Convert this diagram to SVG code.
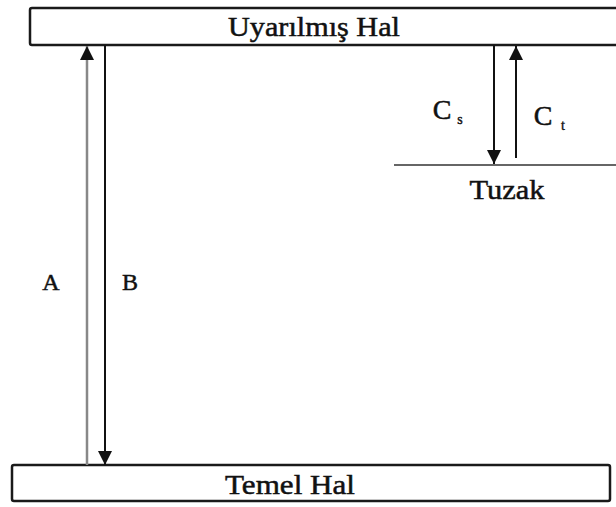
<svg xmlns="http://www.w3.org/2000/svg" width="616" height="507" viewBox="0 0 616 507">
<defs>
<marker id="ah" viewBox="0 0 10 10" refX="10" refY="5" markerWidth="14" markerHeight="20" markerUnits="userSpaceOnUse" orient="auto">
<path d="M0,0 L10,5 L0,10 z" fill="#111"/>
</marker>
</defs>
<rect width="616" height="507" fill="#fff"/>
<g id="uyarilmis">
<rect x="30" y="8" width="600" height="37" rx="2" fill="#fff" stroke="#1a1a1a" stroke-width="2.5"/>
<text x="314" y="36" font-size="28" font-family="Liberation Serif" fill="#111" stroke="#111" stroke-width="0.5" text-anchor="middle" textLength="172" lengthAdjust="spacingAndGlyphs">Uyarılmış Hal</text>
</g>
<g id="temel">
<rect x="12" y="465" width="598" height="36" rx="2" fill="#fff" stroke="#1a1a1a" stroke-width="2.5"/>
<text x="290" y="494" font-size="28" font-family="Liberation Serif" fill="#111" stroke="#111" stroke-width="0.5" text-anchor="middle" textLength="130" lengthAdjust="spacingAndGlyphs">Temel Hal</text>
</g>
<g id="tuzak">
<line x1="394" y1="165" x2="616" y2="165" stroke="#333" stroke-width="1.5"/>
<text x="507" y="199" font-size="28" font-family="Liberation Serif" fill="#111" stroke="#111" stroke-width="0.5" text-anchor="middle" textLength="75" lengthAdjust="spacingAndGlyphs">Tuzak</text>
</g>
<g id="connectors">
<line x1="87" y1="465" x2="87" y2="46" stroke="#888" stroke-width="2.5" marker-end="url(#ah)"/>
<line x1="105" y1="45" x2="105" y2="465" stroke="#111" stroke-width="2" marker-end="url(#ah)"/>
<line x1="494" y1="45" x2="494" y2="164" stroke="#111" stroke-width="2" marker-end="url(#ah)"/>
<line x1="516" y1="158" x2="516" y2="46" stroke="#111" stroke-width="2" marker-end="url(#ah)"/>
</g>
<g id="labels">
<text x="51" y="290" font-size="24" font-family="Liberation Serif" fill="#111" stroke="#111" stroke-width="0.5" text-anchor="middle">A</text>
<text x="130" y="290" font-size="24" font-family="Liberation Serif" fill="#111" stroke="#111" stroke-width="0.5" text-anchor="middle">B</text>
<text x="442" y="119" font-size="28" font-family="Liberation Serif" fill="#111" stroke="#111" stroke-width="0.5" text-anchor="middle">C</text>
<text x="460" y="124" font-size="14" font-family="Liberation Serif" fill="#111" stroke="#111" stroke-width="0.4" text-anchor="middle">s</text>
<text x="543" y="125" font-size="28" font-family="Liberation Serif" fill="#111" stroke="#111" stroke-width="0.5" text-anchor="middle">C</text>
<text x="563" y="130" font-size="14" font-family="Liberation Serif" fill="#111" stroke="#111" stroke-width="0.4" text-anchor="middle">t</text>
</g>
</svg>
